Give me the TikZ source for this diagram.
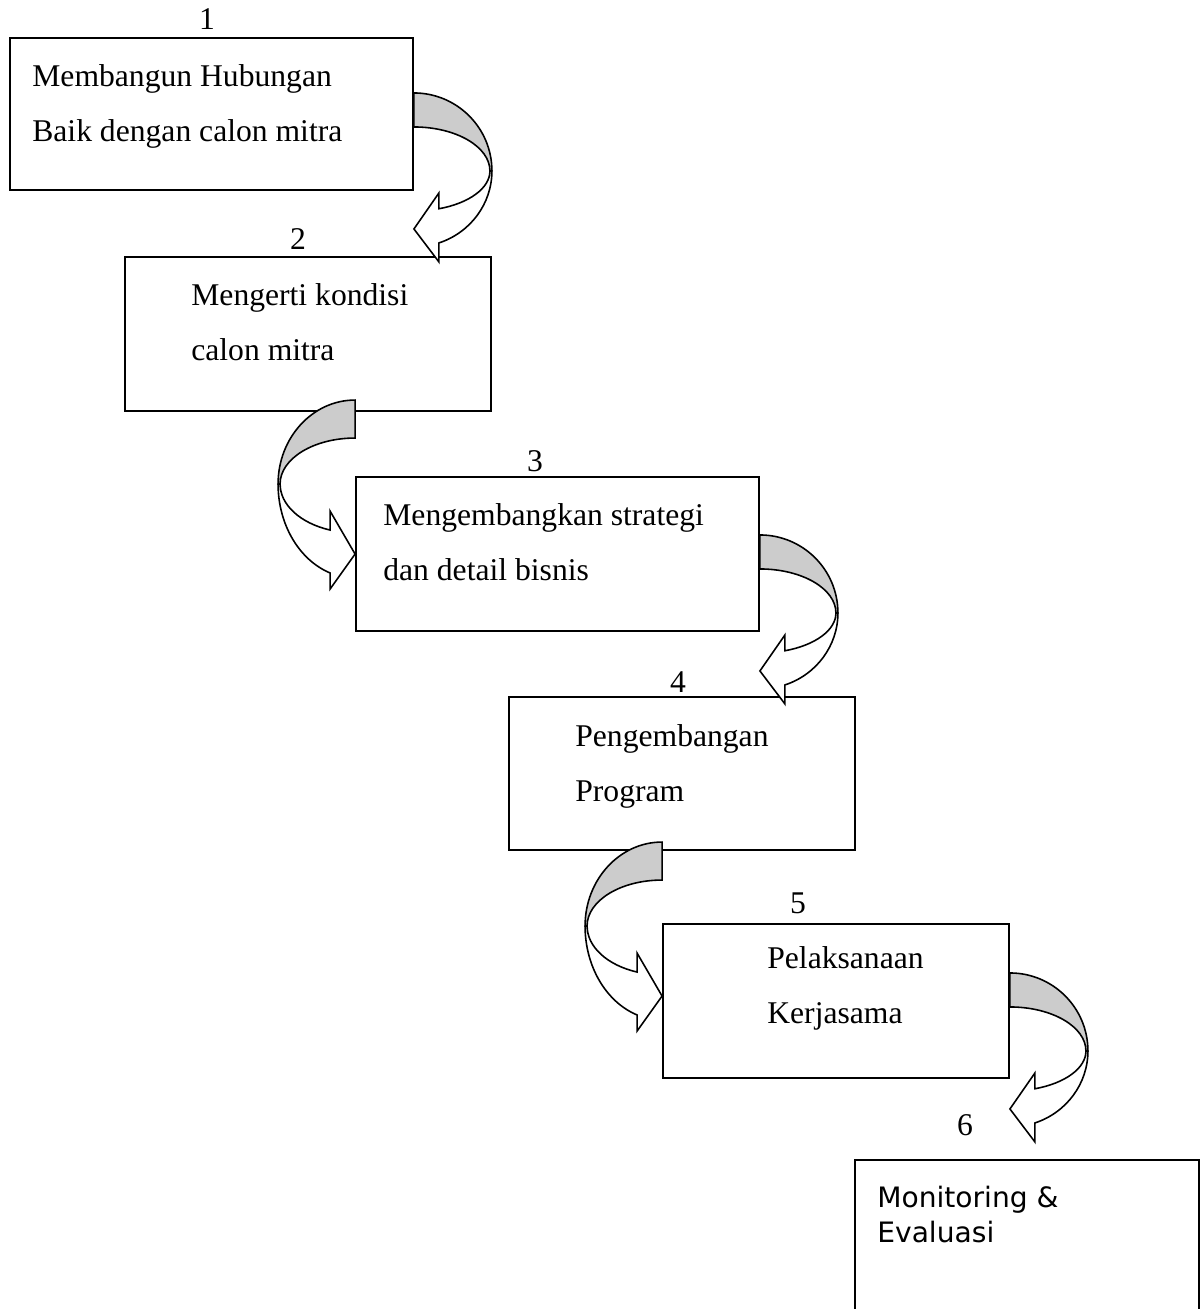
\documentclass[tikz,border=0pt]{standalone}
\usepackage{fontspec}
\setmainfont{Liberation Serif}
\newfontfamily\tahomalike{DejaVu Sans}
\usepackage{tikz}
\usetikzlibrary{calc}

\tikzset{
	box/.style = {draw, line width=1.1pt, fill=white, inner sep=0pt},
	lbl/.style = {anchor=base west, inner sep=0pt, align=left, font=\fontsize{18}{31.3}\selectfont},
	num/.style = {anchor=base, inner sep=0pt, font=\fontsize{18}{21}\selectfont},
	arrback/.style = {draw, line width=0.9pt, fill=gray!40},
	arrfront/.style = {draw, line width=0.9pt, fill=white},
	% curved arrow bending down on the right side, origin = bend point
	turnR/.pic = {
		\draw[arrback] (0,78) arc[start angle=90, end angle=0, x radius=78, y radius=78] -- (76,0)
			arc[start angle=0, end angle=90, x radius=76, y radius=44] -- cycle;
		\draw[arrfront] (78,0) arc[start angle=0, end angle=-71.3, x radius=78, y radius=76]
			-- (25,-91) -- (0,-58) -- (25,-22) -- (25,-37.8)
			arc[start angle=-70.8, end angle=0, x radius=76, y radius=40] -- cycle;
	},
	% curved arrow bending down on the left side
	turnL/.pic = {
		\draw[arrback] (0,84) arc[start angle=90, end angle=180, x radius=77, y radius=84] -- (-75,0)
			arc[start angle=180, end angle=90, x radius=75, y radius=46] -- cycle;
		\draw[arrfront] (-77,0) arc[start angle=180, end angle=251.1, x radius=77, y radius=94]
			-- (-25,-105) -- (0,-70) -- (-25,-27) -- (-25,-46)
			arc[start angle=250.5, end angle=180, x radius=75, y radius=48.8] -- cycle;
	}
}

\begin{document}
\begin{tikzpicture}[x=0.02cm, y=0.02cm]
	\useasboundingbox (0,0) rectangle (1200,-1309);
	\clip (0,0) rectangle (1200,-1309);

	% boxes
	\node[box, minimum width=8.06cm, minimum height=3.04cm] (b1) at (211.5,-114) {};
	\node[box, minimum width=7.32cm, minimum height=3.08cm] (b2) at (308,-334) {};
	\node[box, minimum width=8.06cm, minimum height=3.08cm] (b3) at (557.5,-554) {};
	\node[box, minimum width=6.92cm, minimum height=3.06cm] (b4) at (682,-773.5) {};
	\node[box, minimum width=6.92cm, minimum height=3.08cm] (b5) at (836,-1001) {};
	\node[box, minimum width=6.87cm, minimum height=4cm] (b6) at (1027,-1260) {};

	% step numbers
	\node[num] (n1) at (207,-29) {1};
	\node[num] (n2) at (298,-249) {2};
	\node[num] (n3) at (535,-471) {3};
	\node[num] (n4) at (678,-692) {4};
	\node[num] (n5) at (798,-913) {5};
	\node[num] (n6) at (965,-1135) {6};

	% texts (base = baseline of the last line)
	\node[lbl] (t1) at (32,-141) {Membangun Hubungan\\Baik dengan calon mitra};
	\node[lbl] (t2) at (191,-360) {Mengerti kondisi\\calon mitra};
	\node[lbl] (t3) at (383,-580) {Mengembangkan strategi\\dan detail bisnis};
	\node[lbl] (t4) at (575,-801) {Pengembangan\\Program};
	\node[lbl] (t5) at (767,-1023) {Pelaksanaan\\Kerjasama};
	\node[lbl, font=\tahomalike\fontsize{16}{19.9}\selectfont] (t6) at (877,-1242) {Monitoring \&\\Evaluasi};

	% curved arrows between the steps
	\pic at ($(b1.south east)+(0,20)$) {turnR};
	\pic at ($(b3.north west)+(0,-8)$) {turnL};
	\pic at ($(b3.south east)+(0,19)$) {turnR};
	\pic at ($(b5.north west)+(0,-3)$) {turnL};
	\pic at ($(b5.south east)+(0,28)$) {turnR};
\end{tikzpicture}
\end{document}
